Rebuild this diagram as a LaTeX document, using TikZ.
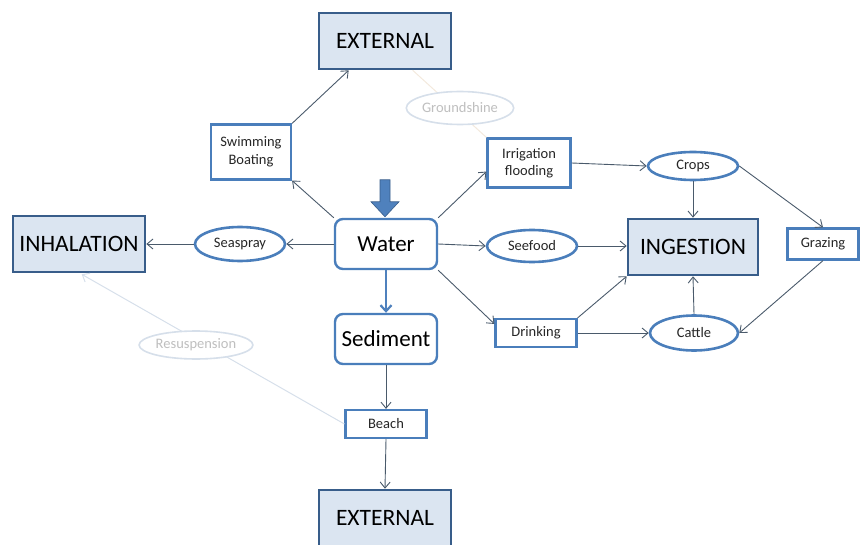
\documentclass[tikz,border=0pt]{standalone}
\usepackage{fontspec}
\setmainfont{Carlito}
\usetikzlibrary{arrows.meta,shapes.geometric,calc}
\definecolor{hvy}{HTML}{385D8A}
\definecolor{hfill}{HTML}{DBE5F1}
\definecolor{bord}{HTML}{4A7EBB}
\definecolor{arrc}{HTML}{4A5A6B}
\definecolor{faint}{HTML}{D6DFEA}
\definecolor{faintt}{HTML}{BFBFBF}
\definecolor{faintpeach}{HTML}{F3E9DD}
\definecolor{blk}{HTML}{4F81BD}
\begin{document}
\begin{tikzpicture}[x=1pt,y=-1pt,
  heavy/.style={draw=hvy, line width=2.6pt, fill=hfill, inner sep=0pt,
    minimum width=#1, minimum height=56pt, font=\fontsize{23.5}{26}\selectfont},
  heavy/.default=132pt,
  rbox/.style={draw=bord, line width=2.4pt, rounded corners=8pt, fill=white,
    inner sep=0pt, minimum width=102pt, minimum height=50pt,
    font=\fontsize{23}{26}\selectfont},
  sbox/.style={draw=bord, line width=2.2pt, fill=white, inner sep=0pt, align=center,
    font=\fontsize{14.5}{17.5}\selectfont, text=black!85},
  oval/.style={ellipse, draw=bord, line width=2.6pt, fill=white, inner sep=0pt,
    font=\fontsize{14.5}{17}\selectfont, text=black!85},
  ghost/.style={ellipse, draw=faint, line width=1.6pt, fill=white, inner sep=0pt,
    font=\fontsize{14.5}{17}\selectfont, text=faintt},
  arr/.style={draw=arrc, line width=0.9pt, -{Straight Barb[length=6pt,width=10pt]}},
]
\useasboundingbox (0,0) rectangle (861,545);
\clip (0,0) rectangle (861,545);

% nodes
\node[heavy] (exttop) at (385,41) {EXTERNAL};
\node[heavy, minimum height=70pt] (extbot) at (385,525) {};
\node[font=\fontsize{23.5}{26}\selectfont] (extbottxt) at (385,518) {EXTERNAL};
\node[heavy] (inh) at (79,244) {INHALATION};
\node[heavy, minimum width=130pt] (ing) at (693,247) {INGESTION};

\node[rbox] (water) at (386,244) {Water};
\node[rbox] (sed) at (386,339) {Sediment};

\node[sbox, minimum width=80pt, minimum height=55pt] (swim) at (251,152) {Swimming\\Boating};
\node[sbox, minimum width=83pt, minimum height=49pt] (irr) at (529,163) {Irrigation\\flooding};
\node[sbox, minimum width=71pt, minimum height=31pt] (graz) at (823,244) {Grazing};
\node[sbox, minimum width=81pt, minimum height=28pt] (drink) at (536,333) {Drinking};
\node[sbox, minimum width=81pt, minimum height=28pt] (beach) at (386,424) {Beach};

\node[oval, minimum width=90pt, minimum height=34pt] (sea) at (240,244) {Seaspray};
\node[oval, minimum width=90pt, minimum height=32pt] (seef) at (532,246) {Seefood};
\node[oval, minimum width=90pt, minimum height=28pt] (crops) at (693,166) {Crops};
\node[oval, minimum width=88pt, minimum height=35pt] (cattle) at (694,333) {Cattle};

% faint connectors (behind ghost ellipses)
\coordinate (gtop) at ($(exttop.south west)+(95,0)$);
\draw[draw=faintpeach, line width=1pt] (gtop) -- (irr.north west);
\draw[draw=faint, line width=1pt, -{Straight Barb[length=6pt,width=10pt]}] (beach.west) -- ($(inh.south west)+(70,1)$);
\node[ghost, minimum width=94pt, minimum height=33pt] (gshine) at (460,108) {Groundshine};
\node[ghost, minimum width=106pt, minimum height=28pt] (resus) at (196,345) {Resuspension};

% block arrow into Water
\coordinate (bktip) at ($(water.north)+(-1,-1)$);
\fill[blk, draw=hvy, line width=0.6pt]
  ($(bktip)+(-5,-37)$) -- ($(bktip)+(5,-37)$) -- ($(bktip)+(5,-15)$) --
  ($(bktip)+(14,-15)$) -- (bktip) -- ($(bktip)+(-14,-15)$) --
  ($(bktip)+(-5,-15)$) -- cycle;

% connectors
\draw[arr] (water.north west) -- (swim.south east);
\draw[arr] (swim.north east) -- ($(exttop.south west)+(31,0)$);
\draw[arr] (water.north east) -- ($(irr.south west)+(0,-17)$);
\draw[arr] (water.west) -- (sea.east);
\draw[arr] (sea.west) -- (inh.east);
\draw[arr] (water.east) -- (seef.west);
\draw[arr] (seef.east) -- (ing.west |- seef.east);
\draw[arr] (water.south east) -- ($(drink.north west)+(0,6)$);
\draw[draw=blk, line width=2.2pt, -{Straight Barb[length=6pt,width=11pt]}] (water.south) -- (sed.north);
\draw[arr] (sed.south) -- (beach.north);
\draw[arr] (beach.south) -- (extbot.north);
\draw[arr] (irr.east) -- (crops.west);
\draw[arr] (crops.south) -- (ing.north);
\draw[arr] (crops.east) -- (graz.north);
\draw[arr] (graz.south) -- (cattle.east);
\draw[arr] (drink.north east) -- (ing.south west);
\draw[arr] (drink.east) -- (cattle.west);
\draw[arr] (cattle.north) -- (ing.south);
\end{tikzpicture}
\end{document}
